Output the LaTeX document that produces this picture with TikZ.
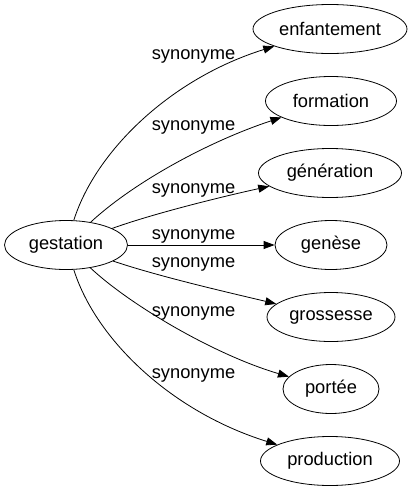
\documentclass[tikz,border=0pt]{standalone}
\usepackage{fontspec}
\setmainfont{Liberation Sans}
\usetikzlibrary{shapes, arrows.meta, positioning}

\begin{document}
\begin{tikzpicture}[
  x=1pt, y=-1pt,
  wordbox/.style={draw, ellipse, line width=0.8pt, minimum height=49pt, inner sep=0pt, font=\fontsize{18.3}{22}\selectfont},
  synlabel/.style={anchor=base, inner sep=0pt, font=\fontsize{18.3}{22}\selectfont},
  synarrow/.style={-{Triangle[length=11pt, width=8pt]}, line width=0.8pt}
]
  \useasboundingbox (0,0) rectangle (415,491);

  % Source word
  \node[wordbox, minimum width=123pt] (gest) at (66,245) {gestation};

  % Synonyms
  \node[wordbox, minimum width=154pt] (enf) at (330,29) {enfantement};
  \node[wordbox, minimum width=131pt] (form) at (331,101) {formation};
  \node[wordbox, minimum width=143pt] (gen) at (330,173) {génération};
  \node[wordbox, minimum width=112pt] (gns) at (331,245) {genèse};
  \node[wordbox, minimum width=128pt] (gross) at (331,317) {grossesse};
  \node[wordbox, minimum width=96pt] (port) at (331,389) {portée};
  \node[wordbox, minimum width=139pt] (prod) at (330,461) {production};

  % Links
  \draw[synarrow] (gest) .. controls (96,150) and (172,78) .. (enf);
  \draw[synarrow] (gest) .. controls (133,183) and (207,142) .. (form);
  \draw[synarrow] (gest) .. controls (155,213) and (225,196) .. (gen);
  \draw[synarrow] (gest) -- (gns);
  \draw[synarrow] (gest) .. controls (160,277) and (235,294) .. (gross);
  \draw[synarrow] (gest) .. controls (130,305) and (215,355) .. (port);
  \draw[synarrow] (gest) .. controls (96,340) and (172,412) .. (prod);

  % Labels
  \node[synlabel] (l1) at (193.5,59) {synonyme};
  \node[synlabel] (l2) at (193.5,130) {synonyme};
  \node[synlabel] (l3) at (193.5,193) {synonyme};
  \node[synlabel] (l4) at (193.5,239) {synonyme};
  \node[synlabel] (l5) at (193.5,267) {synonyme};
  \node[synlabel] (l6) at (193.5,316) {synonyme};
  \node[synlabel] (l7) at (193.5,378) {synonyme};
\end{tikzpicture}
\end{document}
